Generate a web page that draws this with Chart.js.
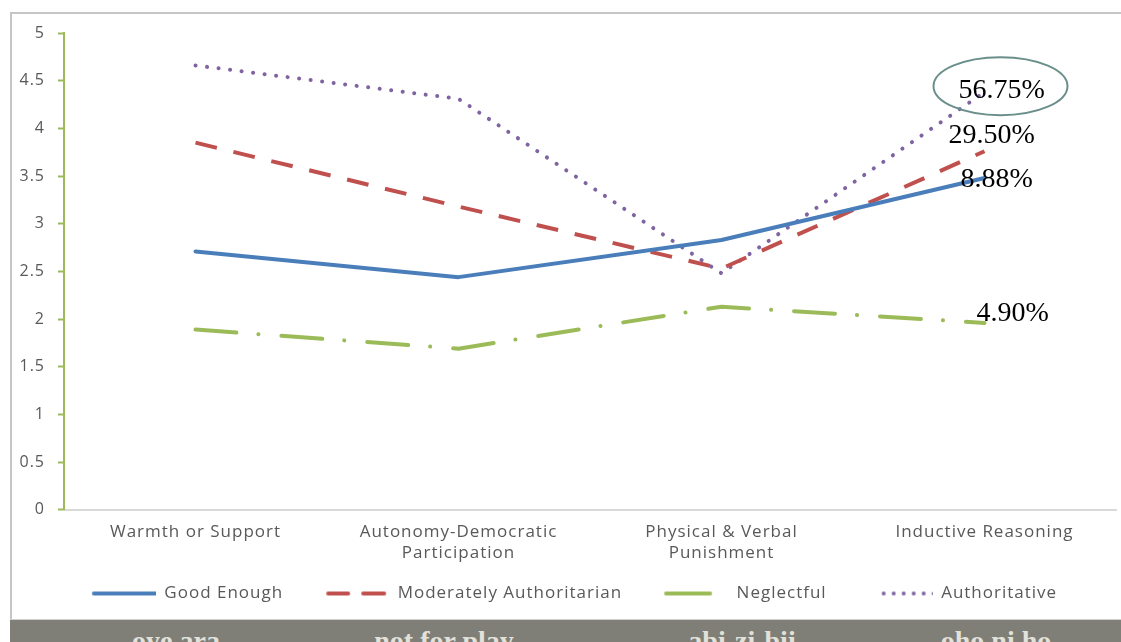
<!DOCTYPE html>
<html>
<head>
<meta charset="utf-8">
<script src="https://cdn.jsdelivr.net/npm/chart.js@4"></script>
<style>
  body { margin: 0; background: #fff; }
  #page { position: relative; width: 1121px; height: 642px; overflow: hidden; }
  #frame { position: absolute; left: 10px; top: 12px; width: 1130px; height: 640px; border: 2px solid #c6c6c6; box-sizing: border-box; }
  #wrap { position: absolute; left: 0; top: 0; width: 1121px; height: 620px; }
  #band { position: absolute; left: 10px; top: 619px; width: 1111px; height: 30px; background: #7f7f78; border-top: 1px solid #d0d0d0; }
  #band span { position: absolute; top: 5px; font: bold 28px "Liberation Serif", serif; color: #e2e2da; white-space: nowrap; transform: translateX(-50%); }
</style>
</head>
<body>
<div id="page">
  <div id="frame"></div>
  <div id="wrap"><canvas id="chart"></canvas></div>
  <div id="band">
    <span style="left:166px">oye ara</span>
    <span style="left:434px">not for play</span>
    <span style="left:732px">abi-zi-bii</span>
    <span style="left:986px">oho ni ho</span>
  </div>
</div>
<script>
// Datos
const categories = ['Warmth or Support', ['Autonomy-Democratic', 'Participation'], ['Physical & Verbal', 'Punishment'], 'Inductive Reasoning'];
const seriesNames = ['Good Enough', 'Moderately Authoritarian', 'Neglectful', 'Authoritative'];
const goodEnough = [2.71, 2.44, 2.83, 3.48];
const moderatelyAuthoritarian = [3.85, 3.18, 2.53, 3.76];
const neglectful = [1.89, 1.69, 2.13, 1.96];
const authoritative = [4.66, 4.31, 2.48, 4.38];
const shareLabels = ['8.88%', '29.50%', '4.90%', '56.75%'];

const colors = ['#4A7EBB', '#C0504D', '#9BBB59', '#8064A2'];
const dashes = [[], [22, 17], [41, 22, 0.1, 23], [0.1, 11.5]];
const caps = ['round', 'butt', 'round', 'round'];

// Muestras de línea para la leyenda (la parte transparente hace de separación)
function legendSample(index) {
    const off = 31;
    const c = document.createElement('canvas');
    c.width = 66 + off; c.height = 10;
    const ctx = c.getContext('2d');
    ctx.strokeStyle = colors[index];
    ctx.lineWidth = 4;
    ctx.lineCap = 'round';
    const y = 5;
    if (index === 0) {
        ctx.beginPath(); ctx.moveTo(off + 4, y); ctx.lineTo(off + 68, y); ctx.stroke();
    } else if (index === 1) {
        ctx.beginPath(); ctx.moveTo(off + 5, y); ctx.lineTo(off + 25, y); ctx.stroke();
        ctx.beginPath(); ctx.moveTo(off + 40, y); ctx.lineTo(off + 61, y); ctx.stroke();
    } else if (index === 2) {
        ctx.beginPath(); ctx.moveTo(off + 4, y); ctx.lineTo(off + 48, y); ctx.stroke();
    } else {
        ctx.fillStyle = colors[index];
        for (let i = 0; i < 6; i++) {
            ctx.beginPath(); ctx.arc(off + 17 + i * 10, y, 2, 0, Math.PI * 2); ctx.fill();
        }
    }
    return c;
}

const datasets = [goodEnough, moderatelyAuthoritarian, neglectful, authoritative].map((values, i) => ({
    label: seriesNames[i],
    data: values,
    borderColor: colors[i],
    backgroundColor: colors[i],
    borderWidth: 4,
    borderDash: dashes[i],
    borderCapStyle: caps[i],
    borderJoinStyle: 'round',
    pointRadius: 0,
    pointStyle: legendSample(i),
    tension: 0,
    fill: false
}));

// El texto original es más ancho: un poco de espaciado entre letras
const letterSpacingPlugin = {
    id: 'letterSpacing',
    beforeUpdate(chart) { chart.ctx.letterSpacing = '1px'; },
    beforeDraw(chart) { chart.ctx.letterSpacing = '1px'; }
};

// Porcentajes junto al último punto, y la elipse
const labelOffsets = [[-24, 9], [-36, -8], [-8, -2], [-26, 6]];
const shareLabelsPlugin = {
    id: 'shareLabels',
    afterDatasetsDraw(chart) {
        const { ctx, scales: { x, y } } = chart;
        const last = categories.length - 1;
        const px = x.getPixelForValue(last);
        ctx.save();
        ctx.letterSpacing = '0px';
        const authY = y.getPixelForValue(authoritative[last]);
        ctx.strokeStyle = '#6a8f8b';
        ctx.lineWidth = 2;
        ctx.beginPath();
        ctx.ellipse(px + 16, authY - 6, 67, 29, 0, 0, Math.PI * 2);
        ctx.stroke();
        ctx.fillStyle = '#000';
        ctx.font = '28px "Liberation Serif", serif';
        ctx.textBaseline = 'alphabetic';
        chart.data.datasets.forEach((ds, i) => {
            const py = y.getPixelForValue(ds.data[last]);
            ctx.fillText(shareLabels[i], px + labelOffsets[i][0], py + labelOffsets[i][1]);
        });
        ctx.restore();
    }
};

new Chart(document.getElementById('chart'), {
    type: 'line',
    data: { labels: categories, datasets: datasets },
    options: {
        responsive: true,
        maintainAspectRatio: false,
        animation: false,
        layout: { padding: { left: 0, right: 5, top: 33, bottom: 8 } },
        plugins: {
            legend: {
                position: 'bottom',
                labels: {
                    usePointStyle: true,
                    pointStyleWidth: 97,
                    padding: 9,
                    color: '#595959',
                    font: { family: '"Open Sans"', size: 17 }
                }
            },
            tooltip: { enabled: false }
        },
        scales: {
            x: {
                offset: true,
                grid: { display: false, drawTicks: false },
                border: { display: true, color: '#d9d9d9', width: 2 },
                ticks: {
                    color: '#595959',
                    padding: 12,
                    maxRotation: 0,
                    font: { family: '"Open Sans"', size: 17, lineHeight: 1.24 }
                }
            },
            y: {
                min: 0,
                max: 5,
                afterFit(scale) { scale.width = 64; },
                grid: { drawOnChartArea: false, drawTicks: true, tickLength: 6, tickColor: '#9BBB59', tickWidth: 2 },
                border: { color: '#9BBB59', width: 2 },
                ticks: {
                    stepSize: 0.5,
                    padding: 13,
                    color: '#595959',
                    font: { family: '"Open Sans"', size: 16 },
                    callback: (value) => String(value)
                }
            }
        }
    },
    plugins: [letterSpacingPlugin, shareLabelsPlugin]
});
</script>
</body>
</html>
